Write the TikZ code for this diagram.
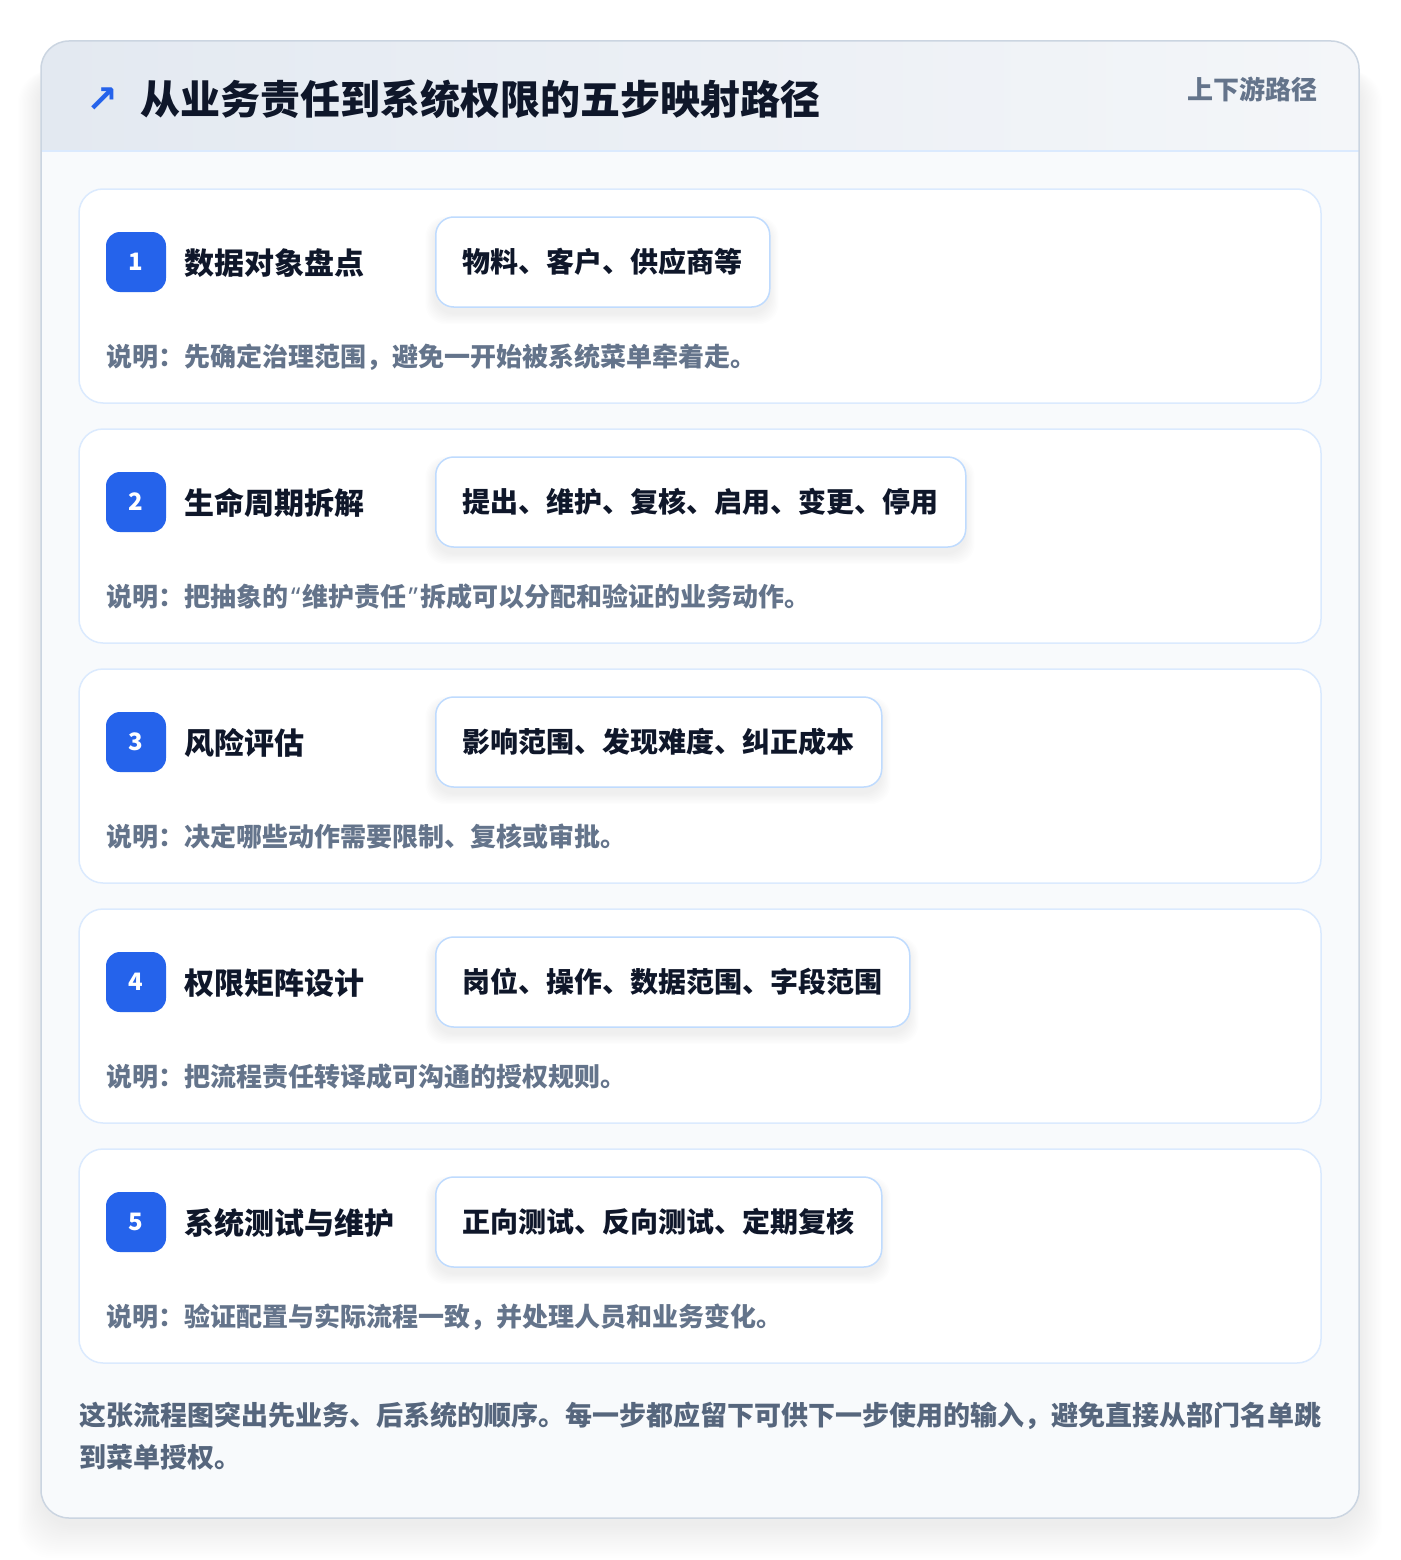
\documentclass[tikz,border=0pt]{standalone}
\usepackage{fontspec}
\setmainfont{Noto Sans CJK SC}
\newfontfamily\dejavu{DejaVu Sans}
\newfontfamily\latinq{Noto Sans}
\definecolor{blueA}{HTML}{2563EB}
\definecolor{ink}{HTML}{0F172A}
\definecolor{muted}{HTML}{64748B}
\definecolor{foot}{HTML}{56667D}
\definecolor{cardline}{HTML}{DBEAFE}
\definecolor{chipline}{HTML}{BFDBFE}
\definecolor{outline}{HTML}{CBD5E1}
\definecolor{hdrL}{HTML}{E3E9F1}
\definecolor{hdrR}{HTML}{F4F6F9}
\definecolor{bodybg}{HTML}{F8FAFC}
\newcommand{\myopenq}{\hspace{3pt}{\latinq “}\hspace{2pt}}
\newcommand{\mycloseq}{\hspace{2pt}{\latinq ”}\hspace{3pt}}
\tikzset{
  stepcard/.style={draw=cardline, line width=1.5pt, fill=white, rounded corners=24pt,
    minimum width=1242pt, minimum height=214pt, inner sep=0pt},
  badge/.style={fill=blueA, rounded corners=14pt, minimum width=60pt, minimum height=60pt,
    inner sep=0pt, text=white, font=\bfseries\fontsize{24}{26}\selectfont},
  steptitle/.style={anchor=west, inner sep=0pt, text=ink, font=\bfseries\fontsize{30}{36}\selectfont},
  chip/.style={anchor=west, draw=chipline, line width=1.5pt, fill=white, rounded corners=18pt,
    minimum height=90pt, inner sep=0pt, text=ink, font=\bfseries\fontsize{28}{34}\selectfont},
  chipshadow/.style={fill=black, opacity=0.009, rounded corners=20pt},
  outershadow/.style={fill=black, opacity=0.005, rounded corners=34pt},
  desc/.style={anchor=west, inner sep=0pt, text=muted, font=\bfseries\fontsize{26}{30}\selectfont},
}
\begin{document}
\begin{tikzpicture}[x=1pt,y=-1pt]
\useasboundingbox (0,0) rectangle (1400,1560);
\fill[white] (0,0) rectangle (1400,1560);
% outer card shadow
\foreach \k in {1,...,18}{
  \fill[outershadow] (41-\k*1.3, 70) rectangle (1359+\k*1.3, 1524+\k*1.9);
}
\node[fill=bodybg, rounded corners=28pt, minimum width=1318pt, minimum height=1477pt, inner sep=0pt]
  (outer) at (700,779.5) {};
\begin{scope}
  \clip[rounded corners=28pt] (41,41) rectangle (1359,1518);
  \shade[left color=hdrL, right color=hdrR] (41,41) rectangle (1359,151);
\end{scope}
\draw[cardline, line width=1.5pt] (41,151) -- (1359,151);
\draw[outline, line width=1.5pt, rounded corners=28pt] (41,41) rectangle (1359,1518);
% header
\node[anchor=center, inner sep=0pt, text=blueA, font=\dejavu\bfseries\fontsize{38}{40}\selectfont] (arrow) at (102,100) {↗};
\node[anchor=west, inner sep=0pt, text=ink, font=\bfseries\fontsize{40}{48}\selectfont] (title) at (140,99) {从业务责任到系统权限的五步映射路径};
\node[anchor=east, inner sep=0pt, text=muted, font=\bfseries\fontsize{26}{30}\selectfont] (sub) at (1318,89) {上下游路径};
% steps
\foreach \i/\ttl/\cw/\ct/\dt in {
  1/数据对象盘点/334/物料、客户、供应商等/说明：先确定治理范围，避免一开始被系统菜单牵着走。,
  2/生命周期拆解/530/提出、维护、复核、启用、变更、停用/说明：把抽象的\myopenq 维护责任\mycloseq 拆成可以分配和验证的业务动作。,
  3/风险评估/446/影响范围、发现难度、纠正成本/说明：决定哪些动作需要限制、复核或审批。,
  4/权限矩阵设计/474/岗位、操作、数据范围、字段范围/说明：把流程责任转译成可沟通的授权规则。,
  5/系统测试与维护/446/正向测试、反向测试、定期复核/说明：验证配置与实际流程一致，并处理人员和业务变化。}{
  \pgfmathsetmacro{\top}{189+240*(\i-1)}
  \node[stepcard] (card\i) at (700,\top+107) {};
  \node[badge] (badge\i) at (136,\top+73) {\i};
  \node[steptitle] (title\i) at (184,\top+74) {\ttl};
  \foreach \k in {1,...,8}{
    \fill[chipshadow] (435-\k*1.2, \top+34-\k*0.8) rectangle (435+\cw+\k*1.2, \top+124+\k*1.4);
  }
  \node[chip, minimum width=\cw pt] (chip\i) at (435,\top+73) {\ct};
  \node[desc] (desc\i) at (106,\top+168) {\dt};
}
% footer
\node[anchor=west, inner sep=0pt, align=left, text=foot, font=\bfseries\fontsize{27}{42}\selectfont] (footer) at (79,1436)
  {这张流程图突出先业务、后系统的顺序。每一步都应留下可供下一步使用的输入，避免直接从部门名单跳\\到菜单授权。};
\end{tikzpicture}
\end{document}
